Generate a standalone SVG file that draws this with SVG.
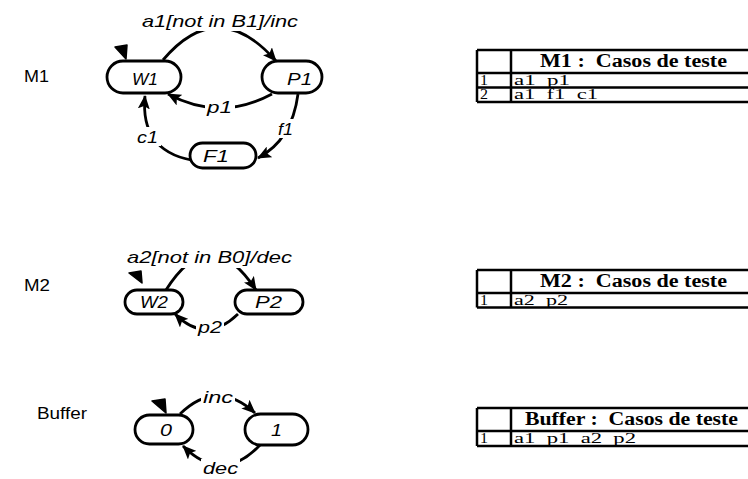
<svg xmlns="http://www.w3.org/2000/svg" width="748" height="479" viewBox="0 0 748 479">
<defs>
<marker id="ah" markerUnits="userSpaceOnUse" markerWidth="14" markerHeight="12" refX="13" refY="6" orient="auto">
<path d="M0,0 L14,6 L0,12 L3,6 z" fill="#000"/>
</marker>
<style>
.st{fill:#fff;stroke:#000;stroke-width:2.8}
.tr{fill:none;stroke:#000;stroke-width:2.8;marker-end:url(#ah)}
.init{fill:#000;stroke:#000;stroke-width:1.5;stroke-linejoin:round}
.lbl{font-family:"Liberation Sans",Arial,sans-serif;font-style:italic;font-size:17px;fill:#000}
.nm{font-family:"Liberation Sans",Arial,sans-serif;font-size:16px;fill:#000}
.bg{fill:#fff;stroke:none}
.tl{stroke:#000;stroke-width:2.5;fill:none}
.th{font-family:"Liberation Serif","Times New Roman",serif;font-weight:bold;font-size:18px;white-space:pre;fill:#000}
.td{font-family:"Liberation Serif","Times New Roman",serif;font-size:15px;white-space:pre;fill:#000}
</style>
</defs>
<rect width="748" height="479" fill="#fff"/>

<!-- section labels -->
<text class="nm" x="24" y="82" textLength="25" lengthAdjust="spacingAndGlyphs">M1</text>
<text class="nm" x="24" y="291" textLength="26" lengthAdjust="spacingAndGlyphs">M2</text>
<text class="nm" x="37" y="419" textLength="50" lengthAdjust="spacingAndGlyphs">Buffer</text>

<!-- connectors -->
<g id="connectors">
<path class="tr" d="M163,60 Q218,-5 276,61"/>
<path class="tr" d="M272,94 Q220,122 168,94"/>
<path class="tr" d="M298,94 Q292,140 258,158"/>
<path class="tr" d="M191,160 Q140,150 145,96"/>
<path class="tr" d="M166,290 Q210,220 256,290"/>
<path class="tr" d="M238,314 Q206,345 175,314"/>
<path class="tr" d="M180,414 Q217,378 255,413"/>
<path class="tr" d="M260,445 Q222,485 183,446"/>
<!-- initial markers -->
<path class="init" d="M115,47 L127,45 L126,59 z"/>
<path class="init" d="M129,273 L141,271 L142,283 z"/>
<path class="init" d="M152,401 L165,399 L166,413 z"/>
</g>

<!-- label backgrounds and labels -->
<g id="labels">
<rect class="bg" x="140" y="10" width="162" height="21"/>
<text class="lbl" x="142" y="27" textLength="156" lengthAdjust="spacingAndGlyphs">a1[not in B1]/inc</text>
<rect class="bg" x="205" y="99" width="30" height="18"/>
<text class="lbl" x="207" y="113" textLength="25" lengthAdjust="spacingAndGlyphs">p1</text>
<rect class="bg" x="276" y="119" width="20" height="19"/>
<text class="lbl" x="278" y="135" textLength="15" lengthAdjust="spacingAndGlyphs">f1</text>
<rect class="bg" x="135" y="127" width="26" height="19"/>
<text class="lbl" x="137" y="143" textLength="21" lengthAdjust="spacingAndGlyphs">c1</text>
<rect class="bg" x="124" y="247" width="172" height="21"/>
<text class="lbl" x="127" y="263" textLength="165" lengthAdjust="spacingAndGlyphs">a2[not in B0]/dec</text>
<rect class="bg" x="196" y="318" width="28" height="20"/>
<text class="lbl" x="198" y="333" textLength="24" lengthAdjust="spacingAndGlyphs">p2</text>
<rect class="bg" x="201" y="387" width="34" height="18"/>
<text class="lbl" x="203" y="403" textLength="30" lengthAdjust="spacingAndGlyphs">inc</text>
<rect class="bg" x="201" y="459" width="39" height="19"/>
<text class="lbl" x="203" y="474" textLength="35" lengthAdjust="spacingAndGlyphs">dec</text>
</g>

<!-- M1 states -->
<g id="W1"><rect class="st" x="107" y="61" width="74" height="32" rx="16"/><text class="lbl" x="132" y="85" textLength="26" lengthAdjust="spacingAndGlyphs">W1</text></g>
<g id="P1"><rect class="st" x="262" y="61" width="60" height="32" rx="16"/><text class="lbl" x="287" y="85" textLength="25" lengthAdjust="spacingAndGlyphs">P1</text></g>
<g id="F1"><rect class="st" x="190" y="143" width="66" height="25" rx="12.5"/><text class="lbl" x="203" y="162" textLength="26" lengthAdjust="spacingAndGlyphs">F1</text></g>

<!-- M2 states -->
<g id="W2"><rect class="st" x="125" y="290" width="58" height="24" rx="12"/><text class="lbl" x="140" y="308" textLength="28" lengthAdjust="spacingAndGlyphs">W2</text></g>
<g id="P2"><rect class="st" x="235" y="290" width="68" height="24" rx="12"/><text class="lbl" x="255" y="308" textLength="27" lengthAdjust="spacingAndGlyphs">P2</text></g>

<!-- Buffer states -->
<g id="B0"><rect class="st" x="135" y="415" width="58" height="29" rx="14.5"/><text class="lbl" x="160" y="436" textLength="12" lengthAdjust="spacingAndGlyphs">0</text></g>
<g id="B1"><rect class="st" x="245" y="414" width="63" height="31" rx="15.5"/><text class="lbl" x="271" y="436" textLength="11" lengthAdjust="spacingAndGlyphs">1</text></g>

<!-- tables -->
<g id="table-M1">
<path class="tl" d="M477,50 H750 M477,73 H750 M477,87.5 H750 M477,102 H750 M477,50 V102 M511,50 V102"/>
<text class="th" x="540" y="67" textLength="187" lengthAdjust="spacingAndGlyphs">M1 :  Casos de teste</text>
<text class="td" x="480" y="84.5" textLength="8" lengthAdjust="spacingAndGlyphs">1</text>
<text class="td" x="514" y="84.5" textLength="56" lengthAdjust="spacingAndGlyphs">a1  p1</text>
<text class="td" x="480" y="99" textLength="8" lengthAdjust="spacingAndGlyphs">2</text>
<text class="td" x="514" y="99" textLength="84" lengthAdjust="spacingAndGlyphs">a1  f1  c1</text>
</g>
<g id="table-M2">
<path class="tl" d="M477,270 H750 M477,293 H750 M477,307.5 H750 M477,270 V307.5 M511,270 V307.5"/>
<text class="th" x="540" y="287" textLength="187" lengthAdjust="spacingAndGlyphs">M2 :  Casos de teste</text>
<text class="td" x="480" y="304.5" textLength="8" lengthAdjust="spacingAndGlyphs">1</text>
<text class="td" x="514" y="304.5" textLength="54" lengthAdjust="spacingAndGlyphs">a2  p2</text>
</g>
<g id="table-Buffer">
<path class="tl" d="M477,408 H750 M477,431 H750 M477,446 H750 M477,408 V446 M511,408 V446"/>
<text class="th" x="525" y="425" textLength="213" lengthAdjust="spacingAndGlyphs">Buffer :  Casos de teste</text>
<text class="td" x="480" y="443" textLength="8" lengthAdjust="spacingAndGlyphs">1</text>
<text class="td" x="514" y="443" textLength="122" lengthAdjust="spacingAndGlyphs">a1  p1  a2  p2</text>
</g>
</svg>
